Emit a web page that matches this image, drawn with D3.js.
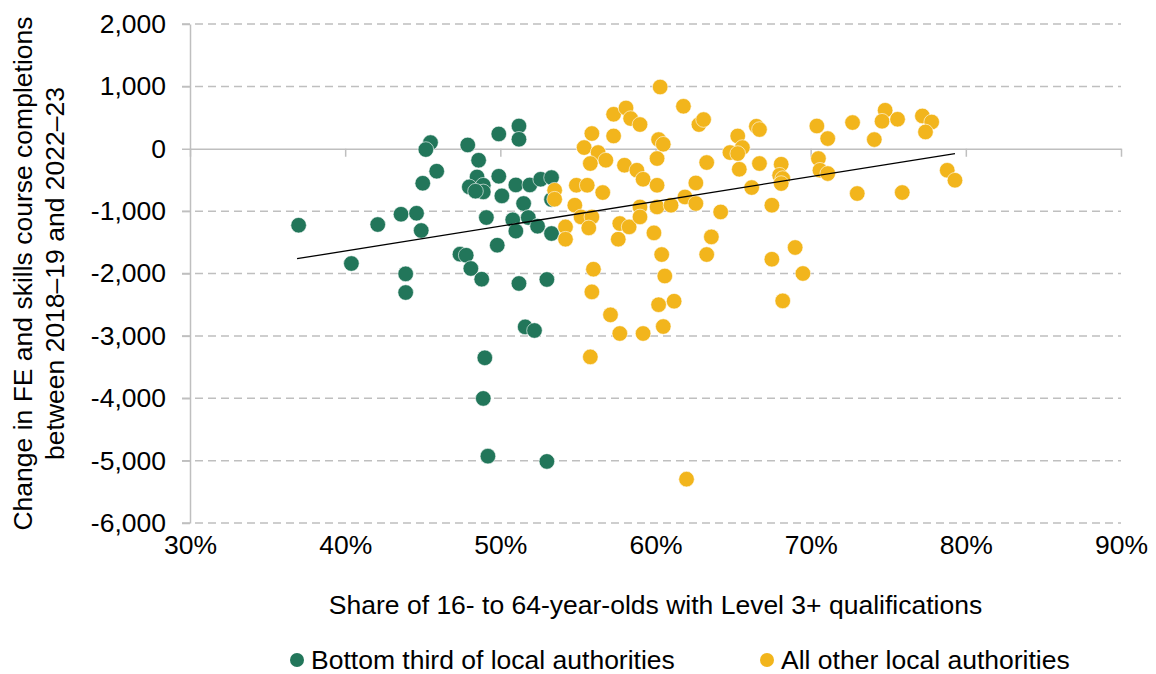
<!DOCTYPE html>
<meta charset="utf-8">
<style>
body {
  margin: 0;
  background-color: #fff;
}
svg text {
  font-family: "Liberation Sans", Arial, sans-serif;
  fill: #000;
}
.axis path,
.axis line {
  fill: none;
  stroke: #BFBFBF;
  stroke-width: 1.5px;
}
.axis text {
  font-size: 26.5px;
}
.grid line {
  stroke: #BFBFBF;
  stroke-width: 1.5px;
  stroke-dasharray: 8,5;
}
.trend {
  fill: none;
  stroke: #000;
  stroke-width: 1.3px;
}
</style>
<body>
<svg width="1156" height="674"></svg>
<script src="https://d3js.org/d3.v7.min.js"></script>
<script>
// bottom third of local authorities: share with Level 3+ (%), change in completions
var bottomX = [37.0, 42.1, 40.4, 43.6, 44.6, 44.9, 43.9, 43.9, 45.5, 45.2,
               45.9, 45.0, 47.9, 48.6, 49.9, 51.2, 51.2, 48.5, 48.0, 48.9,
               48.9, 48.4, 49.9, 50.1, 51.0, 51.9, 52.6, 53.3, 51.5, 49.1,
               50.8, 51.8, 51.0, 52.4, 53.3, 49.8, 47.4, 47.8, 48.1, 48.8,
               51.2, 53.0, 53.3, 51.6, 52.2, 49.0, 48.9, 49.2, 53.0];
var bottomY = [-1226, -1215, -1840, -1050, -1034, -1311, -2006, -2305, 99, -13,
               -360, -553, 61, -184, 237, 365, 152, -452, -612, -585,
               -692, -680, -441, -756, -580, -580, -489, -462, -878, -1103,
               -1140, -1103, -1320, -1242, -1359, -1546, -1690, -1707, -1920, -2091,
               -2160, -2096, -814, -2856, -2914, -3352, -4003, -4928, -5013];

// all other local authorities
var otherX = [55.9, 57.1, 57.7, 59.2, 60.5, 60.2, 61.2, 55.8, 62.0, 60.6,
              60.3, 61.8, 57.3, 58.1, 58.4, 59.0, 62.8, 63.1, 55.9, 57.3,
              60.2, 60.5, 55.4, 56.3, 55.8, 56.8, 60.1, 63.3, 58.0, 58.8,
              59.2, 60.1, 62.6, 65.3, 65.6, 64.8, 65.3, 65.4, 66.7, 66.5,
              66.7, 66.2, 54.9, 55.6, 56.6, 53.5, 53.5, 54.8, 55.2, 55.9,
              55.7, 54.2, 54.2, 57.6, 57.7, 58.3, 59.0, 59.0, 60.1, 61.0,
              59.9, 61.9, 62.6, 64.2, 63.6, 63.3, 60.4, 56.0, 67.5, 67.5,
              68.1, 68.0, 68.2, 68.1, 70.4, 71.1, 70.5, 70.6, 71.1, 72.7,
              73.0, 74.1, 74.8, 74.6, 75.6, 75.9, 77.2, 77.8, 77.4, 78.8,
              79.3, 69.0, 69.5, 68.2];
var otherY = [-2295, -2663, -2962, -2962, -2850, -2500, -2444, -3337, -5297, -2040,
              990, 681, 553, 654, 484, 388, 388, 468, 244, 205,
              147, 72, 19, -61, -237, -184, -157, -221, -264, -344,
              -489, -585, -548, 205, 19, -61, -77, -329, -237, 361,
              308, -622, -585, -585, -702, -665, -809, -905, -1093, -1093,
              -1269, -1253, -1450, -1450, -1199, -1253, -933, -1093, -933, -905,
              -1349, -773, -878, -1013, -1413, -1696, -1696, -1931, -1771, -905,
              -248, -425, -478, -558, 365, 163, -157, -345, -398, 420,
              -718, 147, 617, 441, 473, -702, 526, 429, 269, -345,
              -505, -1583, -2000, -2439];

// linear trend line end points
var trendX = [36.9, 79.3];
var trendY = [-1763, -77];

var xTicks = [30, 40, 50, 60, 70, 80, 90];
var yTicks = [2000, 1000, 0, -1000, -2000, -3000, -4000, -5000, -6000];

var seriesNames = ["Bottom third of local authorities", "All other local authorities"];
var seriesColors = ["#22765A", "#F2B51C"];

var svg = d3.select("svg"),
    margin = {top: 24, right: 35, bottom: 151, left: 190},
    width = +svg.attr("width") - margin.left - margin.right,
    height = +svg.attr("height") - margin.top - margin.bottom;

var x = d3.scaleLinear().domain([30, 90]).range([0, width]);
var y = d3.scaleLinear().domain([-6000, 2000]).range([height, 0]);

var g = svg.append("g")
    .attr("transform", "translate(" + margin.left + "," + margin.top + ")");

// dashed gridlines (not at zero, that is the x axis)
g.append("g")
    .attr("class", "grid")
  .selectAll("line")
  .data(yTicks.filter(function(d) { return d !== 0; }))
  .enter().append("line")
    .attr("x1", -8)
    .attr("x2", width)
    .attr("y1", function(d) { return y(d); })
    .attr("y2", function(d) { return y(d); });

var yFmt = d3.format(",");
g.append("g")
    .attr("class", "axis axis--y")
    .call(d3.axisLeft(y).tickValues(yTicks).tickSizeInner(8).tickSizeOuter(0).tickPadding(16)
      .tickFormat(function(d) { return yFmt(d).replace("\u2212", "-"); }));

// x axis line sits at zero
g.append("g")
    .attr("class", "axis axis--x0")
    .attr("transform", "translate(0," + y(0) + ")")
    .call(d3.axisBottom(x).tickValues(xTicks).tickSizeInner(8).tickSizeOuter(0).tickFormat(""));

// x tick labels along the bottom
g.append("g")
    .attr("class", "axis axis--x")
    .attr("transform", "translate(0," + height + ")")
    .call(d3.axisBottom(x).tickValues(xTicks).tickSize(0).tickPadding(12)
      .tickFormat(function(d) { return d + "%"; }))
    .call(function(a) { a.select(".domain").remove(); });

var pts = [];
bottomX.forEach(function(v, i) { pts.push({x: v, y: bottomY[i], s: 0}); });
otherX.forEach(function(v, i) { pts.push({x: v, y: otherY[i], s: 1}); });

g.append("g").selectAll("circle")
    .data(pts)
  .enter().append("circle")
    .attr("cx", function(d) { return x(d.x); })
    .attr("cy", function(d) { return y(d.y); })
    .attr("r", 7.8)
    .attr("fill", function(d) { return seriesColors[d.s]; })
    .attr("stroke", "#fff")
    .attr("stroke-width", 0.6);

var line = d3.line()
    .x(function(d) { return x(d[0]); })
    .y(function(d) { return y(d[1]); });

g.append("path")
    .datum(trendX.map(function(v, i) { return [v, trendY[i]]; }))
    .attr("class", "trend")
    .attr("d", line);

// axis titles
svg.append("text")
    .attr("x", margin.left + width / 2)
    .attr("y", 614)
    .attr("text-anchor", "middle")
    .style("font-size", "26.5px")
    .text("Share of 16- to 64-year-olds with Level 3+ qualifications");

var yt = svg.append("text")
    .attr("transform", "translate(32," + (margin.top + height / 2) + ") rotate(-90)")
    .attr("text-anchor", "middle")
    .style("font-size", "26.5px");
yt.append("tspan").attr("x", 0).attr("dy", 0).text("Change in FE and skills course completions");
yt.append("tspan").attr("x", 0).attr("dy", 32).text("between 2018\u201319 and 2022\u201323");

// legend
var legX = [297, 767];
var leg = svg.append("g").selectAll("g")
    .data(seriesNames)
  .enter().append("g")
    .attr("transform", function(d, i) { return "translate(" + legX[i] + ",660)"; });
leg.append("circle")
    .attr("r", 7)
    .attr("fill", function(d, i) { return seriesColors[i]; });
leg.append("text")
    .attr("x", 14)
    .attr("dy", "0.35em")
    .style("font-size", "26.5px")
    .text(function(d) { return d; });
</script>
